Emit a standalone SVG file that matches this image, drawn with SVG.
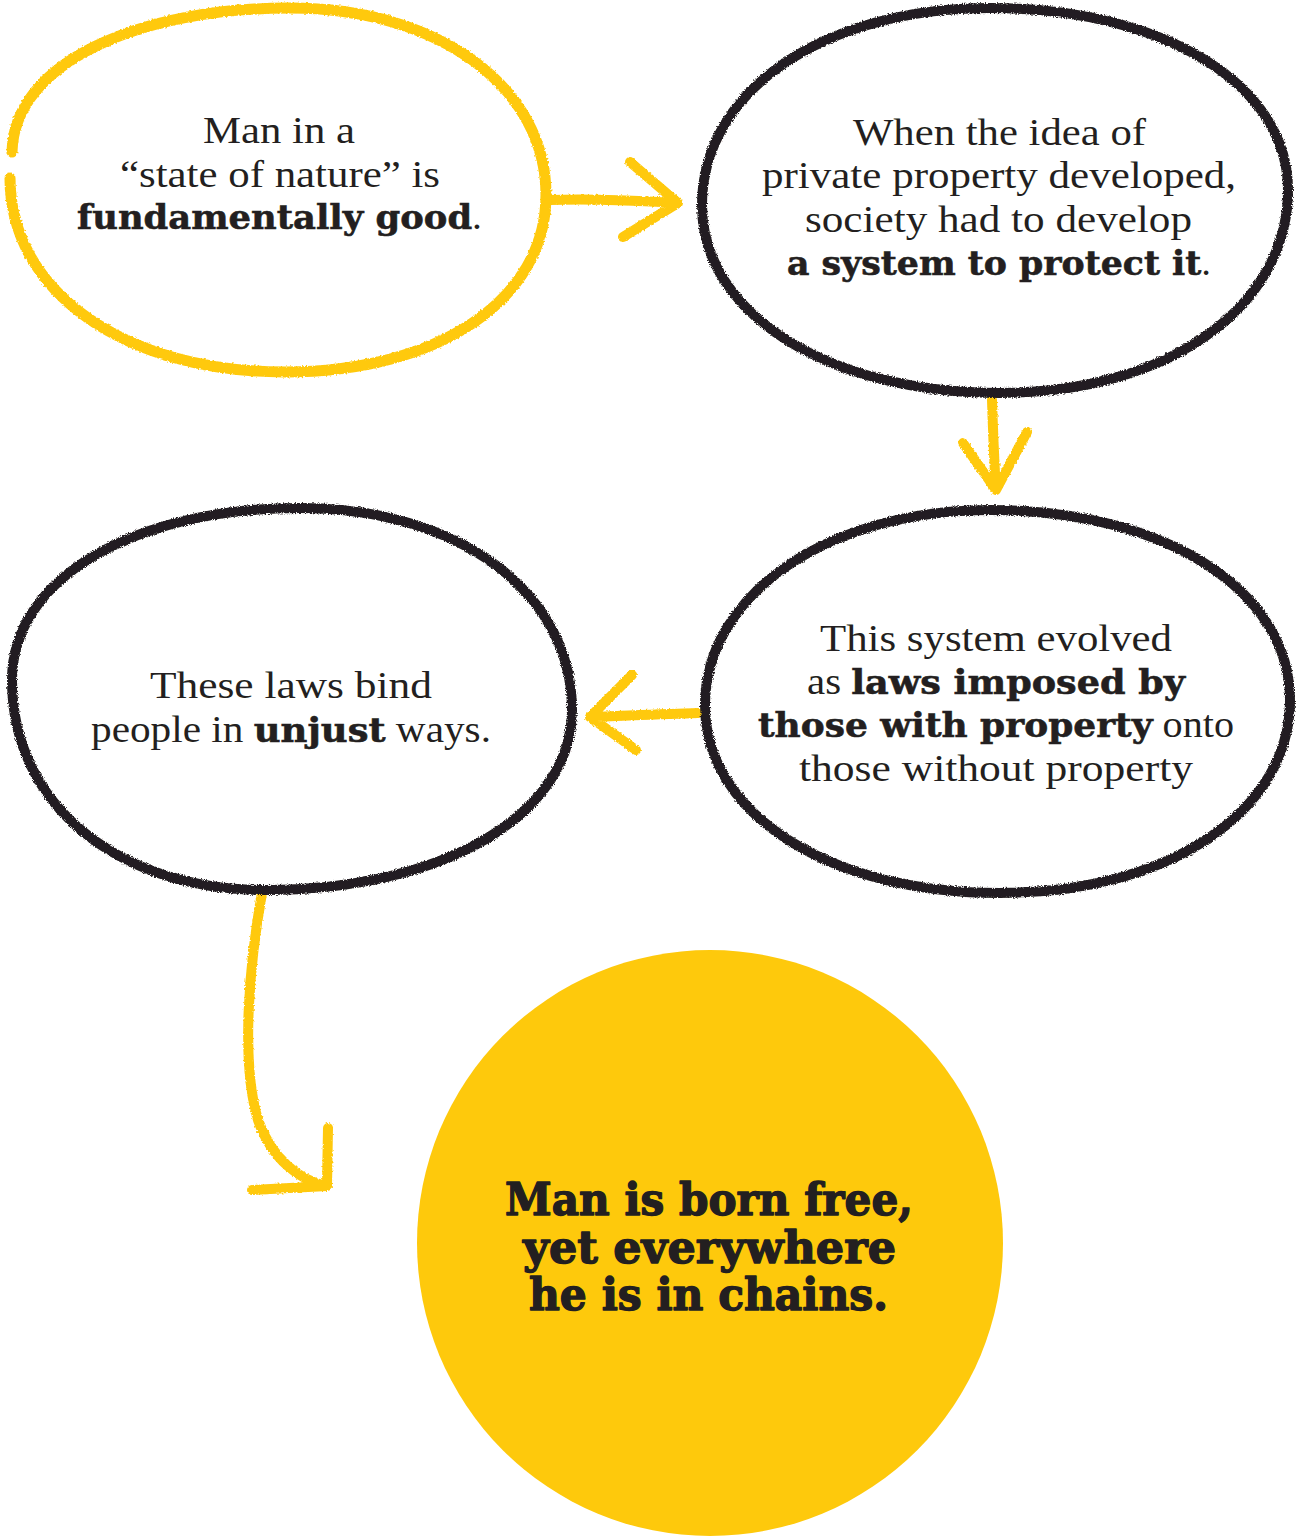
<svg xmlns="http://www.w3.org/2000/svg" width="1300" height="1536" viewBox="0 0 1300 1536">
<style>
.bg{fill:#ffffff}
.yel{fill:none;stroke:#FFC90B;stroke-width:11;stroke-linecap:round;stroke-linejoin:round}
.blk{fill:none;stroke:#231F20;stroke-width:10;stroke-linecap:round;stroke-linejoin:round}
.arr{fill:none;stroke:#FFC90B;stroke-width:10;stroke-linecap:round;stroke-linejoin:round}
.t{font-family:"Liberation Serif","DejaVu Serif",serif;font-size:38px;fill:#231F20}
.b{font-family:"DejaVu Serif","Liberation Serif",serif;font-weight:bold;font-size:34px;stroke:#231F20;stroke-width:0.6}
.q{font-family:"DejaVu Serif","Liberation Serif",serif;font-weight:bold;font-size:44px;fill:#231F20;stroke:#231F20;stroke-width:1.4;stroke-linejoin:round}
</style>
<defs>
<filter id="rough" x="-5%" y="-5%" width="110%" height="110%">
<feTurbulence type="fractalNoise" baseFrequency="0.9" numOctaves="2" seed="3" result="n"/>
<feDisplacementMap in="SourceGraphic" in2="n" scale="4" xChannelSelector="R" yChannelSelector="G"/>
</filter>
<filter id="rough2" x="-5%" y="-5%" width="110%" height="110%">
<feTurbulence type="fractalNoise" baseFrequency="0.5" numOctaves="2" seed="7" result="n"/>
<feDisplacementMap in="SourceGraphic" in2="n" scale="3" xChannelSelector="R" yChannelSelector="G"/>
</filter>
</defs>
<rect class="bg" x="0" y="0" width="1300" height="1536"/>

<g id="connectors" filter="url(#rough2)">
<path class="arr" d="M550,200 C600,198 640,201 678,203 M630,162 L678,203 L623,237"/>
<path class="arr" d="M992,400 C993,430 994,460 996,490 M963,443 L996,490 L1027,432"/>
<path class="arr" d="M698,713 C660,714 620,716 590,717 M632,675 L590,717 L636,750"/>
<path class="arr" d="M262,893 C250,960 240,1060 258,1120 C272,1160 300,1180 326,1186 M328,1128 L327,1186 L252,1190"/>
</g>

<g id="node1">
<path class="yel" filter="url(#rough2)" d="M12,152 C14,62 140,8 290,8 C440,8 546,88 546,195 C546,300 438,372 285,372 C125,372 10,292 10,178"/>
<text class="t" x="203" y="143" textLength="152" lengthAdjust="spacingAndGlyphs">Man in a</text>
<text class="t" x="120" y="187" textLength="320" lengthAdjust="spacingAndGlyphs">“state of nature” is</text>
<text class="t" x="77" y="229" textLength="405" lengthAdjust="spacingAndGlyphs"><tspan class="b">fundamentally good</tspan>.</text>
</g>

<g id="node2">
<path class="blk" filter="url(#rough)" d="M702,205 C702,90 825,8 990,8 C1163,8 1288,84 1288,190 C1288,308 1166,393 1000,393 C828,393 702,314 702,205 Z"/>
<text class="t" x="853" y="145" textLength="293" lengthAdjust="spacingAndGlyphs">When the idea of</text>
<text class="t" x="762" y="188" textLength="474" lengthAdjust="spacingAndGlyphs">private property developed,</text>
<text class="t" x="805" y="232" textLength="387" lengthAdjust="spacingAndGlyphs">society had to develop</text>
<text class="t" x="787" y="275" textLength="424" lengthAdjust="spacingAndGlyphs"><tspan class="b">a system to protect it</tspan>.</text>
</g>

<g id="node3">
<path class="blk" filter="url(#rough)" d="M705,705 C705,595 828,510 990,510 C1164,510 1290,590 1290,700 C1290,812 1168,893 1000,893 C830,893 705,815 705,705 Z"/>
<text class="t" x="820" y="651" textLength="352" lengthAdjust="spacingAndGlyphs">This system evolved</text>
<text class="t" x="807" y="694" textLength="378" lengthAdjust="spacingAndGlyphs">as <tspan class="b">laws imposed by</tspan></text>
<text class="t" x="758" y="737" textLength="476" lengthAdjust="spacingAndGlyphs"><tspan class="b">those with property</tspan> onto</text>
<text class="t" x="799" y="781" textLength="394" lengthAdjust="spacingAndGlyphs">those without property</text>
</g>

<g id="node4">
<path class="blk" filter="url(#rough)" d="M12,680 C12,578 135,508 300,508 C458,508 572,592 572,710 C572,815 443,890 265,890 C118,890 12,805 12,680 Z"/>
<text class="t" x="150" y="698" textLength="282" lengthAdjust="spacingAndGlyphs">These laws bind</text>
<text class="t" x="91" y="742" textLength="400" lengthAdjust="spacingAndGlyphs">people in <tspan class="b">unjust</tspan> ways.</text>
</g>

<g id="node5">
<circle cx="710" cy="1243" r="293" fill="#FEC90C"/>
<text class="q" x="505" y="1215" textLength="408" lengthAdjust="spacingAndGlyphs">Man is born free,</text>
<text class="q" x="523" y="1263" textLength="373" lengthAdjust="spacingAndGlyphs">yet everywhere</text>
<text class="q" x="529" y="1310" textLength="359" lengthAdjust="spacingAndGlyphs">he is in chains.</text>
</g>
</svg>
